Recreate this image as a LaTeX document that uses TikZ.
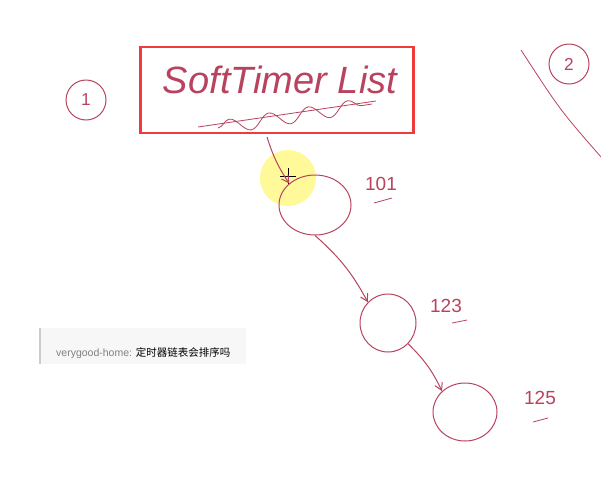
\documentclass[tikz,border=0pt]{standalone}
\usepackage{fontspec}
\setmainfont{Liberation Sans}
\newfontfamily\cjk{Noto Sans CJK SC}
\usepackage{xcolor}
\usetikzlibrary{arrows.meta,positioning,shapes,calc,decorations.pathmorphing}

\definecolor{ink}{HTML}{B8435F}
\definecolor{boxred}{HTML}{EE3B3B}
\definecolor{chatbg}{HTML}{F7F7F7}

\begin{document}
\begin{tikzpicture}[x=1pt, y=-1pt,
    item/.style={ellipse, draw=ink, line width=1pt, inner sep=0pt},
    num/.style={text=ink, font=\fontsize{19}{20}\selectfont},
    pagemark/.style={circle, draw=ink, line width=1pt, minimum size=40pt, text=ink, font=\LARGE},
    link/.style={-{Straight Barb[length=7pt, width=8pt]}, draw=ink, line width=1pt}
]
    \useasboundingbox[fill=white] (0,0) rectangle (601,477);

    % Title box
    \node[draw=boxred, line width=2.5pt, minimum width=273pt, minimum height=86pt] (title) at (277,90) {};
    \node[text=ink, font=\fontsize{38}{40}\selectfont\itshape] (titletext) at (280,80) {SoftTimer List};
    \draw[ink, line width=0.8pt] (198,127) -- (376,101);
    \draw[ink, line width=0.8pt, decorate, decoration={snake, amplitude=7pt, segment length=40pt}] (218,128) -- (372,104);

    % Page markers
    \node[pagemark] (one) at (86,100) {1};
    \node[pagemark] (two) at (569,64) {2};
    \coordinate (edgetop) at (521,50);
    \coordinate (edgebot) at (601,157);
    \draw[ink, line width=0.8pt] (edgetop) .. controls (560,110) .. (edgebot);

    % Cursor highlight
    \fill[yellow, opacity=0.4] (288,178) circle (28pt);
    \draw[black, line width=0.8pt] (280,176) -- (296,176) (288,168) -- (288,184);

    % List items
    \node[item, minimum width=72pt, minimum height=60pt] (n1) at (315,205) {};
    \node[num] (l1) at (381,184) {101};
    \draw[ink, line width=0.8pt] (374,203) -- (392,198);

    \node[item, minimum width=56pt, minimum height=58pt] (n2) at (388,323) {};
    \node[num] (l2) at (446,306) {123};
    \draw[ink, line width=0.8pt] (452,323) -- (467,320);

    \node[item, minimum width=64pt, minimum height=58pt] (n3) at (465,412) {};
    \node[num] (l3) at (540,398) {125};
    \draw[ink, line width=0.8pt] (533,422) -- (548,418);

    % Arrows
    \coordinate (start) at (267,137);
    \draw[link] (start) to[bend right=8] (n1.north west);
    \draw[link] (n1.south) to[bend left=10] (n2.north west);
    \draw[link] (n2.south east) to[bend left=10] (n3.north west);

    % Chat overlay
    \node[fill=chatbg, minimum width=206pt, minimum height=36pt, anchor=north west] (chat) at (40,328) {};
    \draw[gray!40, line width=1.5pt] (chat.north west) -- (chat.south west);
    \node[anchor=west, font=\fontsize{10.5}{12}\selectfont, inner sep=0pt] (msg) at (56,353) {\textcolor{gray}{verygood-home:} {\cjk 定时器链表会排序吗}};
\end{tikzpicture}
\end{document}
